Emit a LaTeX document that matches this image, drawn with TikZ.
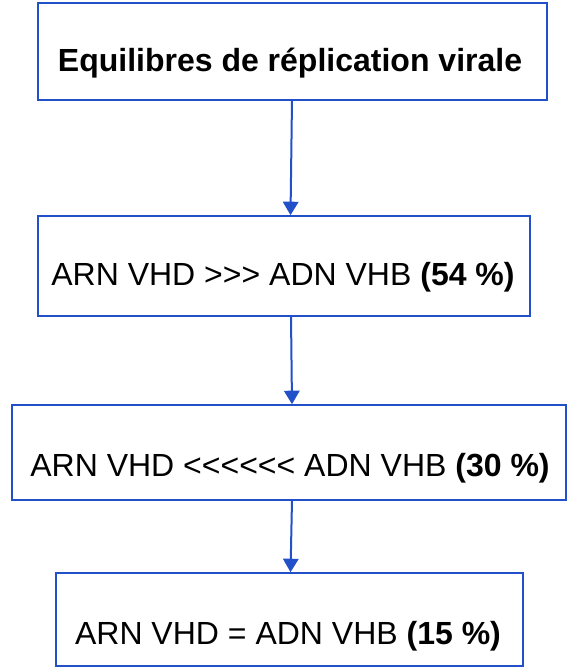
\documentclass[tikz,border=0pt]{standalone}
\usepackage{fontspec}
\setmainfont{Liberation Sans}
\usetikzlibrary{arrows.meta}
\definecolor{boxblue}{HTML}{2150C8}
\newcommand{\gtc}{>\kern0pt}
\newcommand{\ltc}{<\kern0pt}
\tikzset{
  box/.style={draw=boxblue, line width=1.6pt, rectangle, inner sep=0pt},
  lbl/.style={anchor=base, inner sep=0pt, font=\fontsize{32}{38}\selectfont},
  conn/.style={draw=boxblue, line width=2pt, -{Triangle[length=13.5pt,width=15.5pt]}, shorten >=0.8pt}
}
\begin{document}
\begin{tikzpicture}[x=1pt,y=-1pt]
\useasboundingbox (0,0) rectangle (568,669);
\node[box, minimum width=509pt, minimum height=97pt] (b1) at (292.5,51.5) {};
\node[box, minimum width=492pt, minimum height=100pt] (b2) at (284,266) {};
\node[box, minimum width=554pt, minimum height=95pt] (b3) at (289,452.5) {};
\node[box, minimum width=467pt, minimum height=93pt] (b4) at (289.5,619.5) {};
\node[lbl] (t1) at (290,71) {\bfseries Equilibres de réplication virale};
\node[lbl] (t2) at (283,285) {ARN VHD \gtc\gtc\gtc{} ADN VHB \textbf{(54 \%)}};
\node[lbl] (t3) at (290,476) {ARN VHD \ltc\ltc\ltc\ltc\ltc\ltc{} ADN VHB \textbf{(30 \%)}};
\node[lbl] (t4) at (288,644) {ARN VHD = ADN VHB \textbf{(15 \%)}};
\coordinate (a1s) at (292,100);
\coordinate (a1e) at (290.5,216);
\coordinate (a2s) at (291,316);
\coordinate (a2e) at (292,405);
\coordinate (a3s) at (292,500);
\coordinate (a3e) at (290.5,573);
\draw[conn] (a1s) -- (a1e);
\draw[conn] (a2s) -- (a2e);
\draw[conn] (a3s) -- (a3e);
\end{tikzpicture}
\end{document}
